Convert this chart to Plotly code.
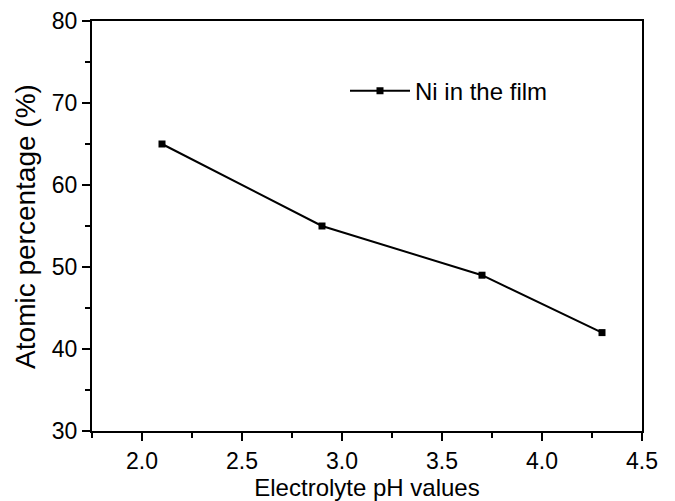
import plotly.graph_objects as go

ph_values = [2.1, 2.9, 3.7, 4.3]
ni_percent = [65, 55, 49, 42]
series_name = "Ni in the film"
x_title = "Electrolyte pH values"
y_title = "Atomic percentage (%)"

fig = go.Figure()
fig.add_trace(go.Scatter(
    x=ph_values, y=ni_percent, name=series_name,
    mode="lines+markers",
    line=dict(color="black", width=2),
    marker=dict(symbol="square", size=7, color="black"),
    showlegend=True,
))

font_family = "Liberation Sans, Arial, sans-serif"
axis_common = dict(
    showline=True, linecolor="black", linewidth=2, mirror=True,
    ticks="outside", ticklen=8, tickwidth=2, tickcolor="black",
    showgrid=False, zeroline=False, automargin=False,
    tickfont=dict(family=font_family, size=23, color="black"),
)

fig.update_layout(
    width=675, height=501,
    margin=dict(l=92, r=33, t=21, b=70),
    plot_bgcolor="white", paper_bgcolor="white",
    font=dict(family=font_family, color="black"),
    xaxis=dict(range=[1.75, 4.5], dtick=0.5, tick0=2.0, tickformat=".1f",
               minor=dict(dtick=0.25, tick0=1.75, ticks="outside", ticklen=5,
                          tickwidth=2, tickcolor="black"),
               title=dict(text=x_title, font=dict(size=24), standoff=4),
               **axis_common),
    yaxis=dict(range=[30, 80], dtick=10,
               minor=dict(dtick=5, ticks="outside", ticklen=5,
                          tickwidth=2, tickcolor="black"),
               **axis_common),
    legend=dict(x=0.46, y=0.829, xanchor="left", yanchor="middle", itemwidth=60,
                bgcolor="rgba(0,0,0,0)", font=dict(size=24)),
    annotations=[dict(text=y_title, textangle=-90, xref="paper", yref="paper",
                      x=-0.122, y=0.5, xanchor="center", yanchor="middle",
                      showarrow=False, font=dict(size=28))],
)
fig.write_html("out.html")
